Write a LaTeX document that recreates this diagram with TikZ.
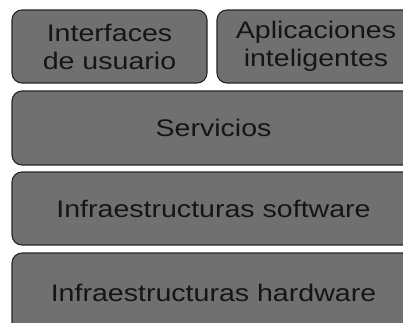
\documentclass[tikz,border=0pt]{standalone}
\usepackage{fontspec}
\setmainfont{Liberation Sans}[FakeStretch=1.19]
\usetikzlibrary{positioning}
\definecolor{layergray}{HTML}{707070}
\definecolor{layertext}{HTML}{151515}
\begin{document}
\begin{tikzpicture}[x=1pt,y=-1pt,
layer/.style={draw=black!85,line width=1.1pt,fill=layergray,rectangle,
  rounded corners=10pt,inner sep=0pt,text=layertext,align=center,
  font=\fontsize{24}{28}\selectfont}]
\useasboundingbox[fill=white] (0,0) rectangle (403,322);
% top row
\node (ui) [layer,minimum width=195pt,minimum height=73pt] at (109.5,46.5)
  {Interfaces\\de usuario};
\node (apps) [layer,minimum width=198pt,minimum height=73pt] at (316,46.5)
  {Aplicaciones\\inteligentes};
% full-width layers
\node (serv) [layer,minimum width=403pt,minimum height=74pt] at (213.5,128)
  {Servicios};
\node (soft) [layer,minimum width=403pt,minimum height=73pt] at (213.5,208.5)
  {Infraestructuras software};
\node (hard) [layer,minimum width=403pt,minimum height=80pt] at (213.5,293)
  {Infraestructuras hardware};
\end{tikzpicture}
\end{document}
